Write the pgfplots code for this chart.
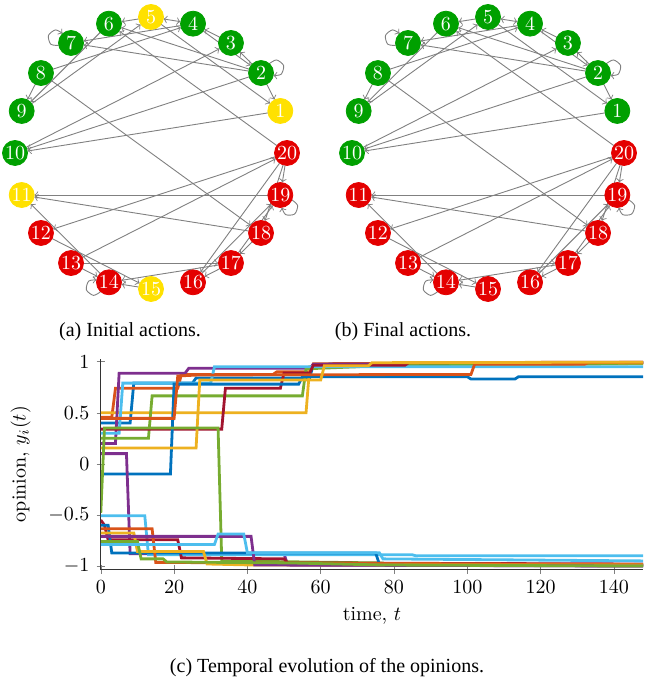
\documentclass[border=0pt]{standalone}
\usepackage{pgfplots}
\pgfplotsset{compat=1.18}
\usepackage{pgfplotstable}
\usepackage{fontspec}
\newfontfamily\capfont{Liberation Serif}

\definecolor{ngreen}{RGB}{0,160,0}
\definecolor{nred}{RGB}{228,0,0}
\definecolor{nyellow}{RGB}{255,225,0}
\definecolor{mblue}{rgb}{0,0.447,0.741}
\definecolor{morange}{rgb}{0.85,0.325,0.098}
\definecolor{myellow}{rgb}{0.929,0.694,0.125}
\definecolor{mpurple}{rgb}{0.494,0.184,0.556}
\definecolor{mgreen}{rgb}{0.466,0.674,0.188}
\definecolor{mlblue}{rgb}{0.301,0.745,0.933}
\definecolor{mdred}{rgb}{0.635,0.078,0.184}

% node positions (unit circle)
\newcommand\Pt[1]{\ifcase#1\or 0.951,0.309\or 0.809,0.588\or 0.588,0.809\or 0.309,0.951\or 0,1\or -0.309,0.951\or -0.588,0.809\or -0.809,0.588\or -0.951,0.309\or -1,0\or -0.951,-0.309\or -0.809,-0.588\or -0.588,-0.809\or -0.309,-0.951\or 0,-1\or 0.309,-0.951\or 0.588,-0.809\or 0.809,-0.588\or 0.951,-0.309\or 1,0\fi}
\newcommand\edge[3][->]{\edef\tmp{\noexpand\addplot[edgestyle,#1] coordinates {(\Pt{#2}) (\Pt{#3})};}\tmp}

\pgfplotsset{edgestyle/.style={draw=black!50, line width=0.45pt, shorten >=6.4pt, shorten <=6.3pt, mark=none}}

\newcommand\alledges{%
\edge{5}{6}\edge[<->]{5}{4}\edge{5}{1}\edge{2}{1}\edge{8}{4}\edge{4}{7}\edge{2}{7}\edge{2}{6}%
\edge{6}{9}\edge{9}{5}\edge{8}{9}\edge{8}{18}\edge{20}{6}\edge{3}{4}\edge{2}{3}\edge{4}{2}%
\edge{1}{10}\edge{2}{10}\edge{10}{3}\edge{19}{11}\edge{18}{11}\edge{14}{11}\edge{20}{12}%
\edge{13}{20}\edge{13}{17}\edge{13}{14}\edge{12}{15}\edge{15}{14}\edge{17}{14}\edge{17}{16}%
\edge{18}{17}\edge{20}{19}\edge{20}{18}\edge{20}{16}\edge{16}{19}\edge{17}{19}%
\addplot[draw=black!50, line width=0.45pt, ->, smooth, mark=none] coordinates {(0.870,0.657)(0.923,0.684)(0.975,0.643)(0.957,0.579)(0.900,0.570)};
\addplot[draw=black!50, line width=0.45pt, ->, smooth, mark=none] coordinates {(-0.679,0.791)(-0.737,0.800)(-0.754,0.864)(-0.702,0.905)(-0.650,0.878)};
\addplot[draw=black!50, line width=0.45pt, ->, smooth, mark=none] coordinates {(1.036,-0.345)(1.078,-0.386)(1.056,-0.449)(0.990,-0.453)(0.962,-0.401)};
\addplot[draw=black!50, line width=0.45pt, ->, smooth, mark=none] coordinates {(-0.371,-1.020)(-0.423,-1.047)(-0.475,-1.006)(-0.458,-0.942)(-0.400,-0.933)};
}

\pgfplotstableread{
id x y
2 0.809 0.588
3 0.588 0.809
4 0.309 0.951
6 -0.309 0.951
7 -0.588 0.809
8 -0.809 0.588
9 -0.951 0.309
10 -1 0
}\NAg
\pgfplotstableread{
id x y
1 0.951 0.309
5 0 1
11 -0.951 -0.309
15 0 -1
}\NAy
\pgfplotstableread{
id x y
12 -0.809 -0.588
13 -0.588 -0.809
14 -0.309 -0.951
16 0.309 -0.951
17 0.588 -0.809
18 0.809 -0.588
19 0.951 -0.309
20 1 0
}\NAr
\pgfplotstableread{
id x y
1 0.951 0.309
2 0.809 0.588
3 0.588 0.809
4 0.309 0.951
5 0 1
6 -0.309 0.951
7 -0.588 0.809
8 -0.809 0.588
9 -0.951 0.309
10 -1 0
}\NBg
\pgfplotstableread{
id x y
11 -0.951 -0.309
12 -0.809 -0.588
13 -0.588 -0.809
14 -0.309 -0.951
15 0 -1
16 0.309 -0.951
17 0.588 -0.809
18 0.809 -0.588
19 0.951 -0.309
20 1 0
}\NBr

\pgfplotsset{
  graphaxis/.style={hide axis, clip=false, scale only axis, width=136pt, height=136pt,
    xmin=-1, xmax=1, ymin=-1, ymax=1, anchor=center},
  gnode/.style={only marks, mark=*, mark size=6.25pt, color=#1, mark options={fill=#1, draw=#1},
    point meta=explicit, nodes near coords, nodes near coords align={center},
    every node near coord/.append style={anchor=center, text=white, inner sep=0pt, font=\normalsize}},
}

\begin{document}
\begin{tikzpicture}
\useasboundingbox (0,0) rectangle (322pt,-344pt);

% (a) initial actions
\begin{axis}[graphaxis, at={(75.5pt,-76.5pt)}]
\alledges
\addplot[gnode=ngreen] table[x=x, y=y, meta=id] {\NAg};
\addplot[gnode=nyellow] table[x=x, y=y, meta=id] {\NAy};
\addplot[gnode=nred] table[x=x, y=y, meta=id] {\NAr};
\end{axis}

% (b) final actions
\begin{axis}[graphaxis, at={(244pt,-76.5pt)}]
\alledges
\addplot[gnode=ngreen] table[x=x, y=y, meta=id] {\NBg};
\addplot[gnode=nred] table[x=x, y=y, meta=id] {\NBr};
\end{axis}

\node[font=\capfont\fontsize{10}{12}\selectfont] at (65pt,-165.8pt) {(a) Initial actions.};
\node[font=\capfont\fontsize{10}{12}\selectfont] at (201.5pt,-165.8pt) {(b) Final actions.};

% (c) opinions
\begin{axis}[at={(50.4pt,-284.8pt)}, anchor=south west, scale only axis,
  width=271.2pt, height=105.5pt,
  xmin=0, xmax=148, ymin=-1.035, ymax=1.03,
  axis x line=bottom, axis y line=left, axis line style={-, black!80},
  tick align=center, xtick={0,20,...,140}, ytick={-1,-0.5,0,0.5,1},
  xlabel={time, $t$}, ylabel={opinion, $y_i(t)$},
  ylabel style={xshift=0pt, yshift=2pt},
  every axis plot/.append style={line width=1.4pt, mark=none},
  clip=true]
% agent 1 (blue)
\addplot[mblue] coordinates {(0,0.40)(8,0.40)(9,0.79)(25,0.79)(26,0.84)(57,0.84)(58,0.975)(148,0.99)};
% agent 2 (orange)
\addplot[morange] coordinates {(0,0.455)(3,0.455)(4,0.74)(21,0.74)(22,0.875)(47,0.875)(48,0.90)(57,0.90)(58,0.98)(148,0.99)};
% agent 3 (yellow)
\addplot[myellow] coordinates {(0,0.50)(56,0.50)(57,0.95)(148,0.98)};
% agent 4 (purple)
\addplot[mpurple] coordinates {(0,0.20)(4,0.20)(5,0.887)(23,0.887)(24,0.935)(57,0.935)(58,0.975)(148,0.99)};
% agent 5 (green)
\addplot[mgreen] coordinates {(0,0.25)(13,0.25)(14,0.665)(55,0.665)(56,0.93)(70,0.95)(78,0.97)(148,0.985)};
% agent 6 (light blue)
\addplot[mlblue] coordinates {(0,0.30)(5,0.30)(6,0.79)(30,0.79)(31,0.95)(148,0.95)};
% agent 7 (dark red)
\addplot[mdred] coordinates {(0,0.34)(33,0.34)(34,0.74)(49,0.74)(50,0.89)(57,0.89)(58,0.965)(83,0.965)(84,0.99)(148,0.995)};
% agent 8 (blue)
\addplot[mblue] coordinates {(0,-0.10)(19,-0.10)(20,0.78)(54,0.78)(55,0.853)(100,0.853)(101,0.83)(113,0.83)(114,0.853)(148,0.853)};
% agent 9 (orange)
\addplot[morange] coordinates {(0,0.445)(20,0.445)(21,0.86)(27,0.87)(101,0.875)(102,0.975)(132,0.975)(133,0.99)(148,0.995)};
% agent 10 (yellow)
\addplot[myellow] coordinates {(0,0.156)(26,0.156)(27,0.82)(60,0.82)(61,0.96)(73,0.96)(74,0.99)(148,0.995)};
% agent 11 (purple)
\addplot[mpurple] coordinates {(0,0.10)(7,0.10)(8,-0.88)(50,-0.88)(51,-0.99)(148,-1.0)};
% agent 12 (green)
\addplot[mgreen] coordinates {(0,-0.48)(1,0.35)(32,0.35)(33,-0.95)(77,-0.97)(78,-0.995)(148,-0.995)};
% agent 13 (light blue)
\addplot[mlblue] coordinates {(0,-0.508)(12,-0.508)(13,-0.89)(85,-0.89)(86,-0.90)(148,-0.90)};
% agent 14 (dark red)
\addplot[mdred] coordinates {(0,-0.55)(1,-0.60)(2,-0.743)(21,-0.743)(22,-0.92)(50,-0.93)(51,-0.97)(148,-0.98)};
% agent 15 (blue)
\addplot[mblue] coordinates {(0,-0.60)(2,-0.60)(3,-0.873)(75,-0.873)(76,-0.98)(148,-0.99)};
% agent 16 (orange)
\addplot[morange] coordinates {(0,-0.635)(14,-0.635)(15,-0.965)(148,-0.985)};
% agent 17 (yellow)
\addplot[myellow] coordinates {(0,-0.677)(9,-0.677)(10,-0.857)(28,-0.857)(29,-0.98)(41,-0.99)(148,-0.99)};
% agent 18 (purple)
\addplot[mpurple] coordinates {(0,-0.71)(41,-0.71)(42,-0.99)(148,-1.0)};
% agent 19 (green)
\addplot[mgreen] coordinates {(0,-0.76)(10,-0.76)(11,-0.93)(17,-0.93)(18,-0.96)(52,-0.97)(77,-0.99)(148,-1.0)};
% agent 20 (light blue)
\addplot[mlblue] coordinates {(0,-0.79)(31,-0.79)(32,-0.687)(39,-0.687)(40,-0.87)(76,-0.87)(77,-0.93)(148,-0.95)};
\end{axis}

\node[font=\capfont\fontsize{10}{12}\selectfont] at (163.5pt,-334pt) {(c) Temporal evolution of the opinions.};
\end{tikzpicture}
\end{document}
